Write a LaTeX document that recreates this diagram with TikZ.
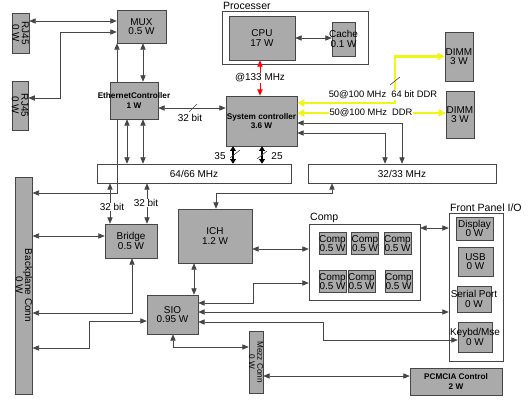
\documentclass[tikz,border=0pt]{standalone}
\usepackage{fontspec}
\setmainfont{Liberation Sans}
\usetikzlibrary{arrows.meta}

\definecolor{boxgray}{RGB}{170,170,170}
\definecolor{edgegray}{RGB}{70,70,70}
\definecolor{ddryellow}{RGB}{240,246,20}

\newcommand{\ovr}[1]{\makebox[0pt]{#1}}

\tikzset{
  sz/.style 2 args={minimum width=#1*0.3mm, minimum height=#2*0.3mm},
  blk/.style={draw=edgegray, fill=boxgray, inner sep=0pt, align=center,
    font=\fontsize{8.5}{8}\selectfont},
  smallblk/.style={blk, font=\fontsize{7}{8}\selectfont\bfseries},
  frame/.style={draw=edgegray, fill=white, inner sep=0pt},
  bus/.style={frame, font=\fontsize{8.5}{8}\selectfont},
  title/.style={font=\fontsize{9}{9}\selectfont, inner sep=1pt},
  lbl/.style={font=\fontsize{8.5}{9}\selectfont, inner sep=0.5pt},
  ddrlbl/.style={lbl, font=\fontsize{8}{9}\selectfont, fill=white},
  link/.style={<->, draw=edgegray, line width=0.6pt},
  fat/.style={<->, draw=black, line width=1.8pt, >={Triangle[length=4pt,width=5pt]}},
  ddr/.style={<->, draw=ddryellow, line width=1.8pt, >={Triangle[length=6pt,width=6pt]}},
  fsb/.style={<->, draw=red, line width=0.8pt},
  slash/.style={draw=edgegray, line width=0.5pt}
}

\begin{document}
\begin{tikzpicture}[x=0.3mm, y=-0.3mm, >={Triangle[length=5.5pt,width=4.5pt]}]
  \useasboundingbox (0,0) rectangle (528,405);

  % processor
  \node[frame, sz={146}{53}] (proc) at (295,37.5) {};
  \node[title, anchor=south west] (proct) at (proc.north west) {Processer};
  \node[blk, sz={66}{44}] (cpu) at (262,38) {CPU\\17 W};
  \node[blk, sz={23}{34}] (cache) at (343.5,39) {\ovr{Cache}\\\ovr{0.1 W}};

  % memory
  \node[blk, sz={28}{49}] (dimma) at (459,56.5) {DIMM\\3 W};
  \node[blk, sz={28}{47}] (dimmb) at (460,114.5) {DIMM\\3 W};

  % left side
  \node[blk, rotate=-90, sz={40}{17}] (rja) at (20.5,33) {RJ45\\0 W};
  \node[blk, rotate=-90, sz={49}{16}] (rjb) at (20,105.5) {RJ45\\0 W};
  \node[blk, rotate=-90, sz={217}{16}] (back) at (24,285.5) {Backplane Conn\\0 W};
  \node[blk, sz={49}{33}] (mux) at (141.5,26.5) {MUX\\0.5 W};

  % buses
  \node[bus, sz={194}{19}] (bus64) at (194,173.5) {64/66 MHz};
  \node[bus, sz={188}{19}] (bus32) at (402,173.5) {32/33 MHz};

  \draw[link] (back.north |- 0,193) -| (117,0 |- mux.south);

  \node[smallblk, sz={48}{37}] (eth) at (134,100.5) {\ovr{EthernetController}\\1 W};
  \node[smallblk, sz={71}{50}] (sysc) at (261.5,121) {System controller\\3.6 W};

  % south side
  \node[blk, sz={52}{34}] (bridge) at (131,241) {Bridge\\0.5 W};
  \node[blk, sz={74}{54}] (ich) at (215,236) {ICH\\1.2 W};
  \node[blk, sz={51}{39}] (sio) at (172.5,314.5) {SIO\\0.95 W};
  \node[blk, rotate=-90, sz={62}{14}, font=\fontsize{7}{7}\selectfont] (mezz) at (256,362) {Mezz Conn\\0 W};
  \node[smallblk, sz={92}{27}] (pcmcia) at (456,381.5) {PCMCIA Control\\2 W};

  % comp group
  \node[frame, sz={111}{76}] (comp) at (364.5,262) {};
  \node[title, anchor=south west] (compt) at (comp.north west) {Comp};
  \node[blk, sz={27}{22}] (compa) at (332.5,243.5) {\ovr{Comp}\\\ovr{0.5 W}};
  \node[blk, sz={27}{22}] (compb) at (365,243.5) {\ovr{Comp}\\\ovr{0.5 W}};
  \node[blk, sz={27}{22}] (compc) at (397.5,243.5) {\ovr{Comp}\\\ovr{0.5 W}};
  \node[blk, sz={27}{22}] (compd) at (332.5,281.5) {\ovr{Comp}\\\ovr{0.5 W}};
  \node[blk, sz={27}{22}] (compe) at (361.5,281.5) {\ovr{Comp}\\\ovr{0.5 W}};
  \node[blk, sz={27}{22}] (compf) at (398.5,281.5) {\ovr{Comp}\\\ovr{0.5 W}};

  % front panel
  \node[frame, sz={54}{148}] (fp) at (476,287) {};
  \node[title, anchor=south west] (fpt) at (fp.north west) {Front Panel I/O};
  \node[blk, sz={37}{23}] (disp) at (474.5,228.5) {\ovr{Display}\\0 W};
  \node[blk, sz={35}{29}] (usb) at (475.5,261.5) {USB\\0 W};
  \node[blk, sz={34}{26}] (serial) at (474,299) {\ovr{Serial Port}\\0 W};
  \node[blk, sz={34}{30}] (keyb) at (475,337) {\ovr{Keybd/Mse}\\0 W};

  % network links
  \draw[link] (rja.north |- 0,21) -- (mux.west |- 0,21);
  \draw[link] (rjb.north |- 0,98) -- ++(32,0) |- (mux.west |- 0,32);
  \draw[link] (143,0 |- mux.south) -- (143,0 |- eth.north);
  \draw[link] (127,0 |- eth.south) -- (127,0 |- bus64.north);
  \draw[link] (143,0 |- eth.south) -- (143,0 |- bus64.north);
  \draw[link] (eth.east |- 0,108) -- (sysc.west |- 0,108);
  \draw[slash] (193,108) ++(-4,4) -- ++(8,-8);
  \node[lbl] (w32) at (190,118) {32 bit};

  % processor and memory links
  \draw[link] (cpu.east) -- (cpu.east -| cache.west);
  \draw[fsb] (260,0 |- cpu.south) -- (260,0 |- sysc.north);
  \node[lbl, fill=white] (f133) at (260,78) {@133 MHz};
  \draw[ddr] (sysc.east |- 0,103) -| (395,0 |- dimma.west) -- (dimma.west);
  \draw[slash] (395,81) ++(-5,4) -- ++(10,-8);
  \node[ddrlbl] (ddra) at (383,95) {50@100 MHz\ \ 64 bit DDR};
  \draw[ddr] (sysc.east |- 0,113) -- (dimmb.west |- 0,113);
  \node[ddrlbl] (ddrb) at (371,113) {50@100 MHz\ \ DDR};

  % system controller to buses
  \draw[link] (sysc.east |- 0,123) -| (402,0 |- bus32.north);
  \draw[link] (sysc.east |- 0,133) -| (385,0 |- bus32.north);
  \draw[fat] (233,0 |- sysc.south) -- (233,0 |- bus64.north);
  \draw[fat] (262,0 |- sysc.south) -- (262,0 |- bus64.north);
  \draw[slash] (235,154) ++(-5,4) -- ++(10,-8);
  \draw[slash] (262,155) ++(-5,4) -- ++(10,-8);
  \node[lbl] (w35) at (220,156) {35};
  \node[lbl] (w25) at (277,156) {25};

  % bridge and backplane
  \draw[link] (110,0 |- bus64.south) -- (110,0 |- bridge.north);
  \draw[link] (147,0 |- bus64.south) -- (147,0 |- bridge.north);
  \node[lbl, fill=white] (wb1) at (112,207) {32 bit};
  \node[lbl, fill=white] (wb2) at (146,203) {32 bit};
  \draw[link] (back.north |- 0,236) -- (bridge.west |- 0,236);
  \draw[link] (back.north |- 0,313) -| (132,0 |- bridge.south);
  \draw[link] (back.north |- 0,348) -- ++(57,0) |- (sio.west |- 0,321);

  % ICH and SIO
  \draw[link] (216,0 |- ich.north) |- (332,193) -- (332,0 |- bus32.south);
  \draw[link] (194,0 |- ich.south) -- (194,0 |- sio.north);
  \draw[link] (ich.east |- 0,249) -- (comp.west |- 0,249);
  \draw[link] (sio.east |- 0,303) -- ++(55,0) |- (comp.west |- 0,283);
  \draw[link] (sio.east |- 0,312) -- (fp.west |- 0,312);
  \draw[link] (sio.east |- 0,322) -- ++(125,0) |- (keyb.west |- 0,340);
  \draw[link] (173,0 |- sio.south) |- (mezz.south |- 0,347);
  \draw[link] (mezz.north |- 0,376) -- (pcmcia.west |- 0,376);
  \draw[link] (comp.east |- 0,228) -- (fp.west |- 0,228);
\end{tikzpicture}
\end{document}
